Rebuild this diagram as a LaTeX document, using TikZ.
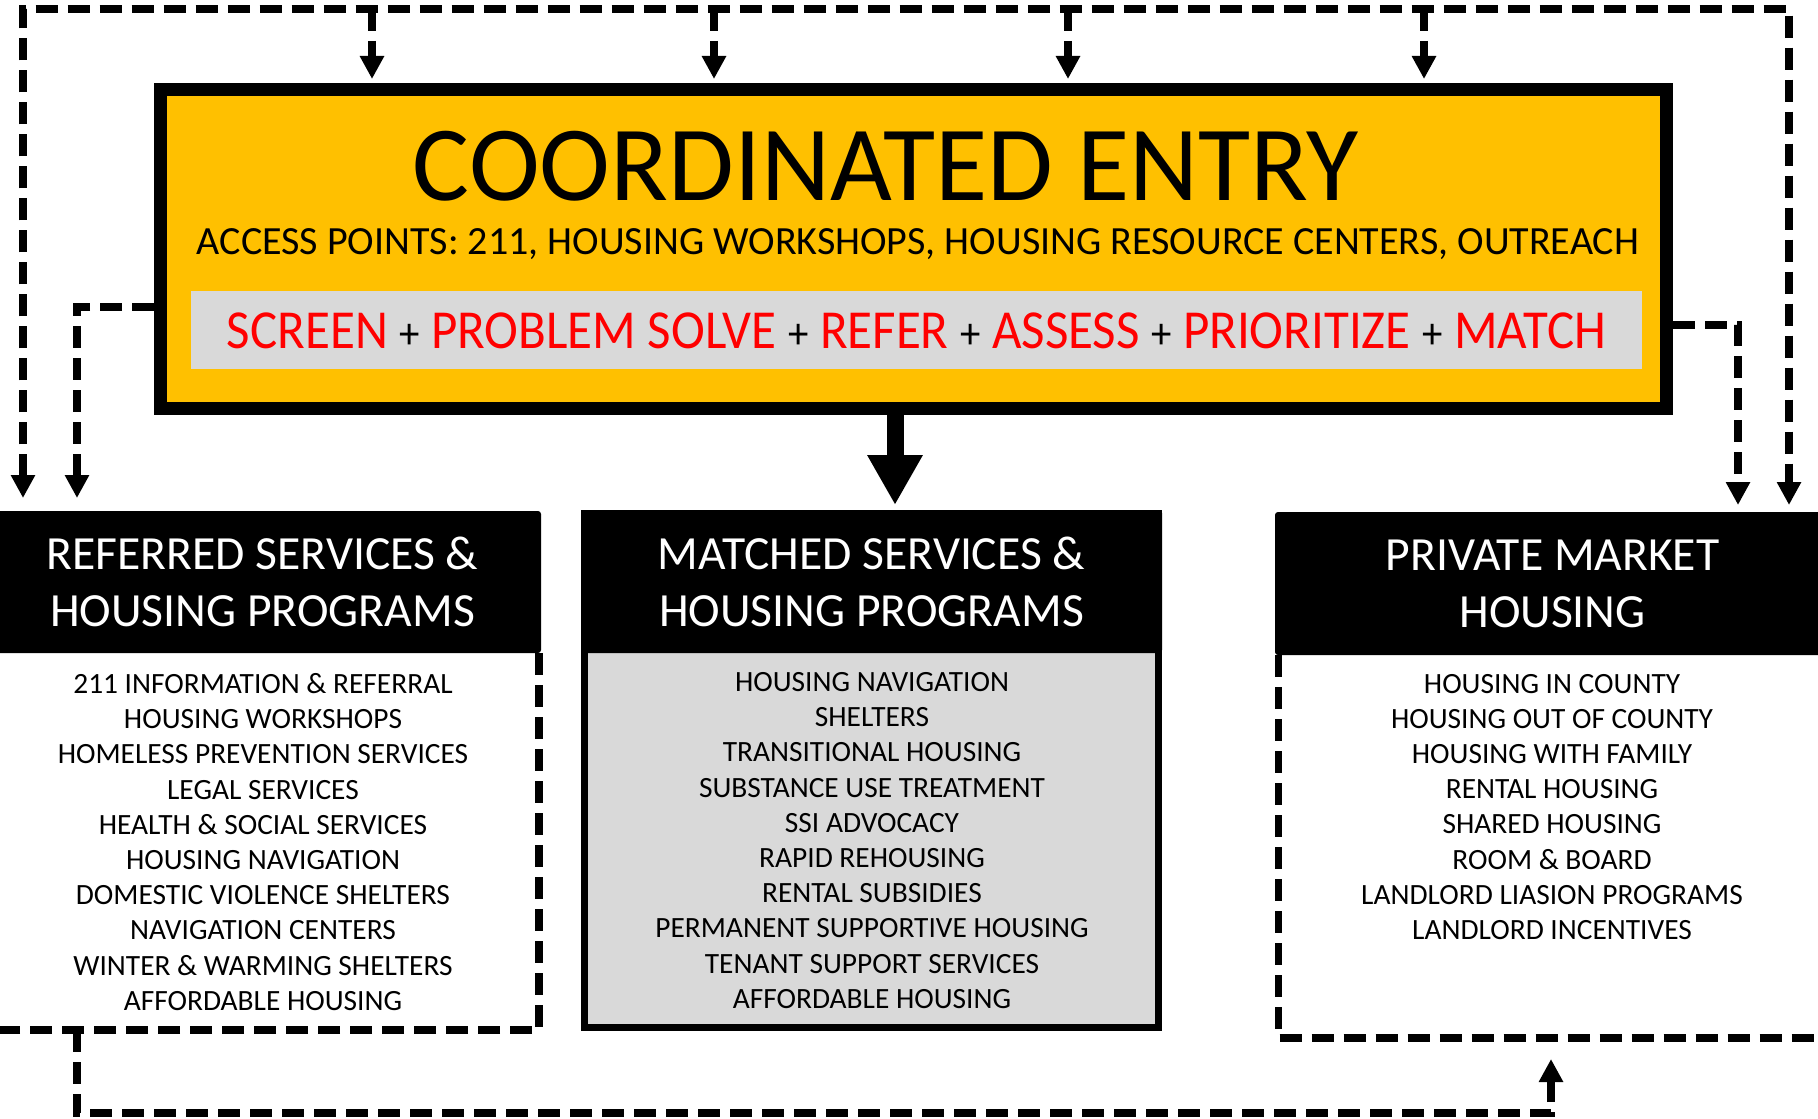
\documentclass[tikz,border=0pt]{standalone}
\usepackage{fontspec}
\setmainfont{Carlito}
\usetikzlibrary{arrows.meta}
\definecolor{ceyellow}{HTML}{FFC000}
\definecolor{bandgray}{HTML}{D9D9D9}
\definecolor{cered}{HTML}{FF0000}
\begin{document}
\begin{tikzpicture}[x=0.5pt,y=-0.5pt,
  dashline/.style={line width=3.6pt, dash pattern=on 11pt off 5pt, line join=miter},
  arrowend/.style={-{Triangle[width=11.5pt,length=11.5pt]}},
  bothends/.style={{Triangle[width=11.5pt,length=11.5pt]}-{Triangle[width=11.5pt,length=11.5pt]}},
  header/.style={fill=black, text=white, rounded corners=1.5pt, inner sep=0pt, outer sep=0pt,
    align=center, font=\fontsize{23.8pt}{28.5pt}\selectfont},
  item/.style={font=\fontsize{14.7pt}{17.6pt}\selectfont, anchor=base, inner sep=0pt},
  plainbox/.style={inner sep=0pt, outer sep=0pt}
]
\useasboundingbox (0,0) rectangle (1818,1118);

% main box
\node[draw=black, line width=6.5pt, fill=ceyellow, minimum width=753pt, minimum height=159.5pt, inner sep=0pt] (ce) at (913.5,249) {};
\node[font=\fontsize{53.4pt}{60pt}\selectfont, anchor=base, inner sep=0pt] (title) at (886,200) {COORDINATED ENTRY};
\node[font=\fontsize{20pt}{22pt}\selectfont, anchor=base, inner sep=0pt] (access) at (918,255) {ACCESS POINTS: 211, HOUSING WORKSHOPS, HOUSING RESOURCE CENTERS, OUTREACH};
\node[fill=bandgray, minimum width=725.5pt, minimum height=39pt, inner sep=0pt] (band) at (916.5,330) {};
\node[anchor=base, inner sep=0pt] (steps) at (916.5,348) {\resizebox{689.5pt}{\height}{\fontsize{27.5pt}{30pt}\selectfont
  \textcolor{cered}{SCREEN} {\fontsize{22pt}{24pt}\selectfont+} \textcolor{cered}{PROBLEM SOLVE} {\fontsize{22pt}{24pt}\selectfont+} \textcolor{cered}{REFER} {\fontsize{22pt}{24pt}\selectfont+} \textcolor{cered}{ASSESS} {\fontsize{22pt}{24pt}\selectfont+} \textcolor{cered}{PRIORITIZE} {\fontsize{22pt}{24pt}\selectfont+} \textcolor{cered}{MATCH}}};

% left column
\node[header, minimum width=278.5pt, minimum height=71pt] (refh) at (262.5,582) {REFERRED SERVICES \&\\HOUSING PROGRAMS};
\node[plainbox, minimum width=277.5pt, minimum height=188.5pt] (refb) at (261.5,841.5) {};
\draw[dashline] (refb.north east) -- (refb.south east) -- (refb.south west);
\foreach \t [count=\i] in {211 INFORMATION \& REFERRAL, HOUSING WORKSHOPS, HOMELESS PREVENTION SERVICES, LEGAL SERVICES, HEALTH \& SOCIAL SERVICES, HOUSING NAVIGATION, DOMESTIC VIOLENCE SHELTERS, NAVIGATION CENTERS, WINTER \& WARMING SHELTERS, AFFORDABLE HOUSING}
  \node[item] (ref\i) at (263,{693.5+35.2*(\i-1)}) {\t};

% middle column
\node[plainbox, draw=black, line width=3.5pt, fill=bandgray, minimum width=287pt, minimum height=257pt] (matb) at (871.5,770.5) {};
\node[header, minimum width=290.5pt, minimum height=71.5pt] (math) at (871.5,581.5) {MATCHED SERVICES \&\\HOUSING PROGRAMS};
\foreach \t [count=\i] in {HOUSING NAVIGATION, SHELTERS, TRANSITIONAL HOUSING, SUBSTANCE USE TREATMENT, SSI ADVOCACY, RAPID REHOUSING, RENTAL SUBSIDIES, PERMANENT SUPPORTIVE HOUSING, TENANT SUPPORT SERVICES, AFFORDABLE HOUSING}
  \node[item] (mat\i) at (872,{691.5+35.2*(\i-1)}) {\t};

% right column
\node[header, minimum width=277.5pt, minimum height=71.5pt] (prih) at (1552.5,583.5) {PRIVATE MARKET\\HOUSING};
\node[plainbox, minimum width=275.5pt, minimum height=191.5pt] (prib) at (1554,846.5) {};
\draw[dashline] (prib.north west) -- (prib.south west) -- (prib.south east);
\foreach \t [count=\i] in {HOUSING IN COUNTY, HOUSING OUT OF COUNTY, HOUSING WITH FAMILY, RENTAL HOUSING, SHARED HOUSING, ROOM \& BOARD, LANDLORD LIASION PROGRAMS, LANDLORD INCENTIVES}
  \node[item] (pri\i) at (1552,{693.5+35.1*(\i-1)}) {\t};

% coordinates for connector ends
\coordinate (topL) at (23,9);
\coordinate (topR) at (1789,9);
\coordinate (lotip) at (23,498);
\coordinate (rotip) at (1789,505);
\coordinate (litip) at (77,498);
\coordinate (ritip) at (1738,505);
\coordinate (t1) at (372,79);
\coordinate (t2) at (714,79);
\coordinate (t3) at (1068,79);
\coordinate (t4) at (1424,79);
\coordinate (ctip) at (895,505);
\coordinate (bsrc) at (77,1030);
\coordinate (btip) at (1551,1059);

% outer feedback loop
\draw[dashline, bothends] (lotip) -- (topL) -- (topR) -- (rotip);
\foreach \k in {1,2,3,4}
  \draw[dashline, arrowend] (t\k |- topL) -- (t\k);

% side connectors from main box
\draw[dashline, arrowend] ([yshift=-29pt]ce.west) -| (litip);
\draw[dashline, arrowend] ([yshift=-38pt]ce.east) -| (ritip);

% main arrow down
\draw[line width=8.5pt, -{Triangle[width=26pt,length=25pt]}] (ctip |- ce.south) -- (ctip);

% bottom connector
\draw[dashline, arrowend] (bsrc) -- ++(0,83) -| (btip);
\end{tikzpicture}
\end{document}
